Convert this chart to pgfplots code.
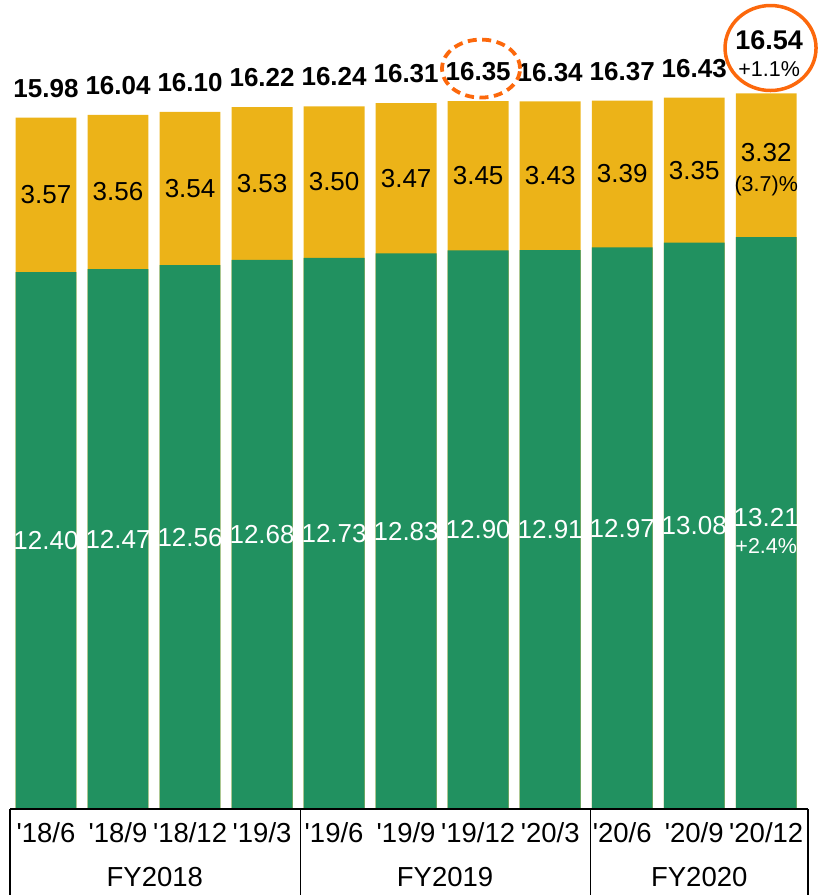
\documentclass[border=0pt]{standalone}
\usepackage{pgfplots}
\pgfplotsset{compat=1.18}
\usepackage{pgfplotstable}
\usepackage{fontspec}
\setmainfont{Liberation Sans}
\definecolor{cgreen}{RGB}{33,145,96}
\definecolor{cyellow}{RGB}{236,179,24}
\definecolor{corange}{RGB}{252,104,12}
\newcommand\lab{\fontsize{26pt}{30pt}\selectfont}
\newcommand\cat{\fontsize{27.5pt}{30pt}\selectfont}
\newcommand\sml{\fontsize{21.5pt}{24pt}\selectfont}
\newcommand\q{\textquotesingle}
\newcommand\gl[2]{\node[text=white, inner sep=0, font=\lab] at (axis cs:#1,#2/2) {#2};}
\newcommand\yl[3]{\node[inner sep=0, font=\lab] at (axis cs:#1,#2+#3/2) {#3};}
\newcommand\tl[2]{\node[inner sep=0, font=\lab\bfseries] at (axis cs:#1,#2+0.67) {#2};}
\newcommand\cl[2]{\node[inner sep=0, font=\cat] at ([yshift=-24pt]axis cs:#1,0) {#2};}
\newcommand\vl[1]{\draw[line width=1.2pt] (axis cs:#1,0) -- ([yshift=-90pt]axis cs:#1,0);}
\pgfplotstableread{
x g y t
0 12.40 3.57 15.98
1 12.47 3.56 16.04
2 12.56 3.54 16.10
3 12.68 3.53 16.22
4 12.73 3.50 16.24
5 12.83 3.47 16.31
6 12.90 3.45 16.35
7 12.91 3.43 16.34
8 12.97 3.39 16.37
9 13.08 3.35 16.43
10 13.21 3.32 16.54
}\data
\begin{document}
\begin{tikzpicture}
\path[use as bounding box] (-10pt,-86pt) rectangle (808pt,809pt);
\begin{axis}[
  scale only axis, width=798pt, height=809pt,
  xmin=-0.5, xmax=10.58, ymin=0, ymax=18.684,
  hide axis, clip=false,
  ybar, bar width=0.845, bar shift=0pt,
]
\addplot[fill=cyellow, draw=none] table[x=x,y expr=\thisrow{g}+\thisrow{y}]{\data};
\addplot[fill=cgreen, draw=none] table[x=x,y=g]{\data};
% green labels
\gl{0}{12.40}\gl{1}{12.47}\gl{2}{12.56}\gl{3}{12.68}\gl{4}{12.73}
\gl{5}{12.83}\gl{6}{12.90}\gl{7}{12.91}\gl{8}{12.97}\gl{9}{13.08}
\node[text=white, inner sep=0, font=\lab] at (axis cs:10,6.72) {13.21};
\node[text=white, inner sep=0, font=\sml] at (axis cs:10,6.08) {+2.4\%};
% yellow labels
\yl{0}{12.40}{3.57}\yl{1}{12.47}{3.56}\yl{2}{12.56}{3.54}\yl{3}{12.68}{3.53}
\yl{4}{12.73}{3.50}\yl{5}{12.83}{3.47}\yl{6}{12.90}{3.45}\yl{7}{12.91}{3.43}
\yl{8}{12.97}{3.39}\yl{9}{13.08}{3.35}
\node[inner sep=0, font=\lab] at (axis cs:10,15.15) {3.32};
\node[inner sep=0, font=\sml] at (axis cs:10,14.40) {(3.7)\%};
% totals
\tl{0}{15.98}\tl{1}{16.04}\tl{2}{16.10}\tl{3}{16.22}\tl{4}{16.24}
\tl{5}{16.31}\tl{6}{16.35}\tl{7}{16.34}\tl{8}{16.37}\tl{9}{16.43}
\node[inner sep=0, font=\fontsize{27pt}{30pt}\selectfont\bfseries] at (axis cs:10.04,17.76) {16.54};
\node[inner sep=0, font=\sml] at (axis cs:10.04,17.08) {+1.1\%};
% highlight ellipses
\draw[corange, line width=3.8pt, dash pattern=on 9pt off 5.5pt] (axis cs:6.04,17.10) ellipse [x radius=39pt, y radius=29pt];
\draw[corange, line width=3.5pt] (axis cs:10.06,17.575) ellipse [x radius=45.5pt, y radius=42.5pt];
% category table
\draw[line width=1.5pt] (axis cs:-0.5,0) -- (axis cs:10.58,0);
\vl{-0.5}\vl{3.53}\vl{7.56}\vl{10.58}
\cl{0}{\q18/6}\cl{1}{\q18/9}\cl{2}{\q18/12}\cl{3}{\q19/3}\cl{4}{\q19/6}\cl{5}{\q19/9}
\cl{6}{\q19/12}\cl{7}{\q20/3}\cl{8}{\q20/6}\cl{9}{\q20/9}\cl{10}{\q20/12}
\node[inner sep=0, font=\cat] at ([yshift=-68pt]axis cs:1.51,0) {FY2018};
\node[inner sep=0, font=\cat] at ([yshift=-68pt]axis cs:5.54,0) {FY2019};
\node[inner sep=0, font=\cat] at ([yshift=-68pt]axis cs:9.07,0) {FY2020};
\end{axis}
\end{tikzpicture}
\end{document}
